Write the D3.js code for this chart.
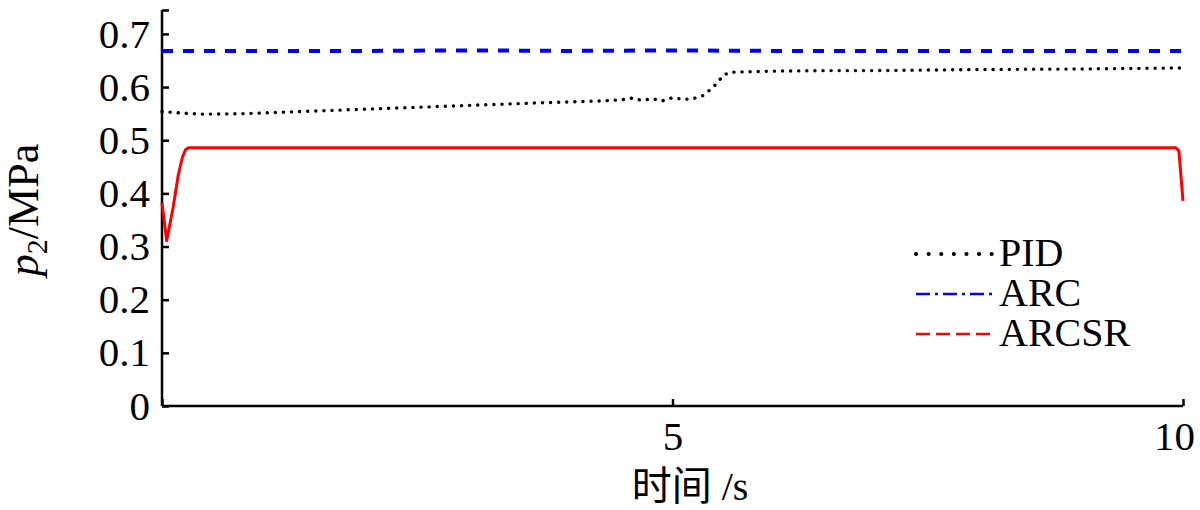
<!DOCTYPE html>
<html><head><meta charset="utf-8">
<script src="https://cdn.jsdelivr.net/npm/d3@7"></script>
<style>body{margin:0;background:#fff}svg{display:block}</style>
</head><body>
<svg id="c" width="1200" height="510"></svg>
<script>
// ---- data ----
const seriesNames = ["PID", "ARC", "ARCSR"];
const pidT = [0, 0.2, 0.4, 0.8, 1.5, 2.5, 3.5, 4.3, 4.5, 4.6, 4.7, 4.8, 4.9, 5.0, 5.1, 5.2, 5.3, 5.4, 5.5, 5.56, 6.0, 6.5, 7.0, 8.0, 9.0, 10];
const pidV = [0.554, 0.551, 0.549, 0.550, 0.555, 0.562, 0.569, 0.574, 0.576, 0.579, 0.575, 0.578, 0.574, 0.580, 0.577, 0.578, 0.584, 0.600, 0.622, 0.628, 0.630, 0.631, 0.631, 0.633, 0.634, 0.636];
const arcT = [0, 1, 2, 3, 4, 5, 6, 7, 8, 9, 10];
const arcV = [0.668, 0.668, 0.668, 0.669, 0.668, 0.669, 0.668, 0.668, 0.668, 0.668, 0.668];
const arcsrT = [0, 0.046, 0.11, 0.16, 0.2, 0.23, 0.26, 2, 5, 8, 9.93, 9.96, 10];
const arcsrV = [0.382, 0.311, 0.375, 0.435, 0.468, 0.482, 0.486, 0.486, 0.486, 0.486, 0.486, 0.48, 0.386];
const xTicks = [5, 10];
const yTicks = [0, 0.1, 0.2, 0.3, 0.4, 0.5, 0.6, 0.7];
const xLabel = "时间 /s";

// ---- layout ----
const svg = d3.select("#c");
const x = d3.scaleLinear().domain([0, 10]).range([162, 1183]);
const y = d3.scaleLinear().domain([0, 0.745]).range([406, 10]);
const serif = "'Liberation Serif','Times New Roman',serif";

// axes
const yAxis = d3.axisLeft(y).tickValues(yTicks.concat([0.745])).tickSize(-7).tickPadding(12)
  .tickFormat(d => yTicks.includes(d) ? (d === 0 ? "0" : d3.format(".1f")(d)) : "");
const xAxis = d3.axisBottom(x).tickValues([0].concat(xTicks)).tickSize(-7).tickPadding(14)
  .tickFormat(d => xTicks.includes(d) ? d : "");

const gy = svg.append("g").attr("transform", `translate(${x(0)},0)`).call(yAxis);
const gx = svg.append("g").attr("transform", `translate(0,${y(0)})`).call(xAxis);
[gx, gy].forEach(g => {
  g.select(".domain").attr("stroke", "#000").attr("stroke-width", 2.5);
  g.selectAll(".tick line").attr("stroke", "#000").attr("stroke-width", 2.5);
  g.selectAll(".tick text").attr("font-family", serif).attr("font-size", 41).attr("fill", "#000");
});
gy.select(".domain").attr("d", `M0,${y(0.745)}V${y(0)}`);
gx.select(".domain").attr("d", `M${x(0)},0H${x(10)}`);
gx.selectAll(".tick text").attr("dy", "0.72em").attr("dx", d => d === 10 ? -9 : 0);

// lines
const line = d3.line().x(d => x(d[0])).y(d => y(d[1]));
const plot = svg.append("g");
plot.append("path").datum(arcsrT.map((t, i) => [t, arcsrV[i]]))
  .attr("d", line).attr("fill", "none").attr("stroke", "#ff0000").attr("stroke-width", 3)
  .attr("stroke-linejoin", "round");
plot.append("path").datum(arcT.map((t, i) => [t, arcV[i]]))
  .attr("d", line).attr("fill", "none").attr("stroke", "#0000ff").attr("stroke-width", 4)
  .attr("stroke-dasharray", "11,10");
plot.append("path").datum(pidT.map((t, i) => [t, pidV[i]]))
  .attr("d", line).attr("fill", "none").attr("stroke", "#000").attr("stroke-width", 3.4)
  .attr("stroke-linecap", "round").attr("stroke-dasharray", "0.1,8");

// legend
const legStyles = [
  {stroke: "#000", dash: "0.1,12.5", cap: "round", w: 4},
  {stroke: "#0000ff", dash: "14,5,3,5", cap: "butt", w: 2.5},
  {stroke: "#ff0000", dash: "14,6", cap: "butt", w: 2.5}
];
const leg = svg.append("g");
seriesNames.forEach((n, i) => {
  const yy = 254 + i * 40;
  leg.append("line").attr("x1", 916).attr("x2", 992).attr("y1", yy).attr("y2", yy)
    .attr("stroke", legStyles[i].stroke).attr("stroke-width", legStyles[i].w)
    .attr("stroke-dasharray", legStyles[i].dash).attr("stroke-linecap", legStyles[i].cap);
  leg.append("text").attr("x", 999).attr("y", yy + 12).attr("font-family", serif)
    .attr("font-size", 40).attr("fill", "#000").text(n);
});

// axis titles
svg.append("text").attr("x", 690).attr("y", 500).attr("text-anchor", "middle")
  .attr("font-family", "'Liberation Serif','Noto Sans CJK SC',serif").attr("font-size", 40).text(xLabel);
const yl = svg.append("text").attr("transform", "translate(38,210) rotate(-90)")
  .attr("text-anchor", "middle").attr("font-family", serif).attr("font-size", 44);
yl.append("tspan").attr("font-style", "italic").text("p");
yl.append("tspan").attr("font-size", 30).attr("dy", 9).text("2");
yl.append("tspan").attr("dy", -9).text("/MPa");
</script>
</body></html>
